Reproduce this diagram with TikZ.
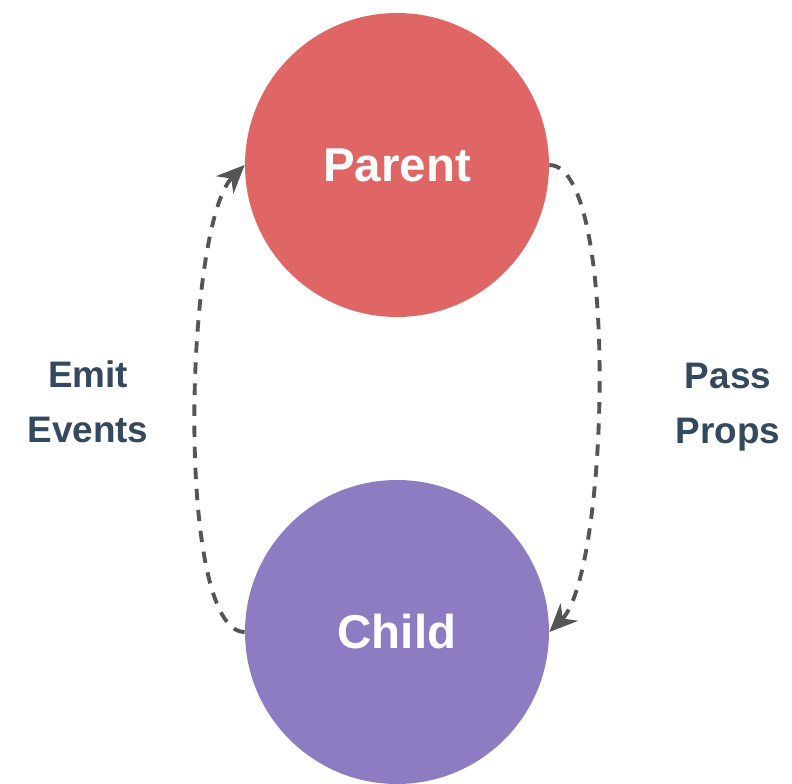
\documentclass[tikz,border=0pt]{standalone}
\usepackage{fontspec}
\setmainfont{Liberation Sans}
\usetikzlibrary{arrows.meta}
\definecolor{parentred}{HTML}{E06666}
\definecolor{childpurple}{HTML}{8E7CC3}
\definecolor{labelslate}{HTML}{34495E}
\definecolor{flowgray}{HTML}{555555}

\begin{document}
\begin{tikzpicture}[
        comp/.style={circle, minimum size=6.08cm, inner sep=0pt, text=white,
                     font=\bfseries\fontsize{27}{30}\selectfont},
        flow/.style={flowgray, line width=2.2pt, dash pattern=on 6.5pt off 5.5pt,
                     -{Stealth[length=16pt, width=14pt]}},
        lbl/.style={text=labelslate, align=center,
                    font=\bfseries\fontsize{21}{31}\selectfont}
    ]
    \useasboundingbox (0,0) rectangle (15.84,-15.66);

    \node[comp, fill=parentred]   (parent) at (7.94,-3.30)  {Parent};
    \node[comp, fill=childpurple] (child)  at (7.94,-12.64) {Child};

    % props go down, events go up
    \draw[flow] (parent.east) .. controls +(1.4,0) and +(1.2,1.2) .. (child.east);
    \draw[flow] (child.west) .. controls +(-1.4,0) and +(-1.2,-1.2) .. (parent.west);

    \node[lbl] (emit) at (1.76,-8.04)  {Emit\\Events};
    \node[lbl] (pass) at (14.56,-8.14) {Pass\\Props};
\end{tikzpicture}
\end{document}
